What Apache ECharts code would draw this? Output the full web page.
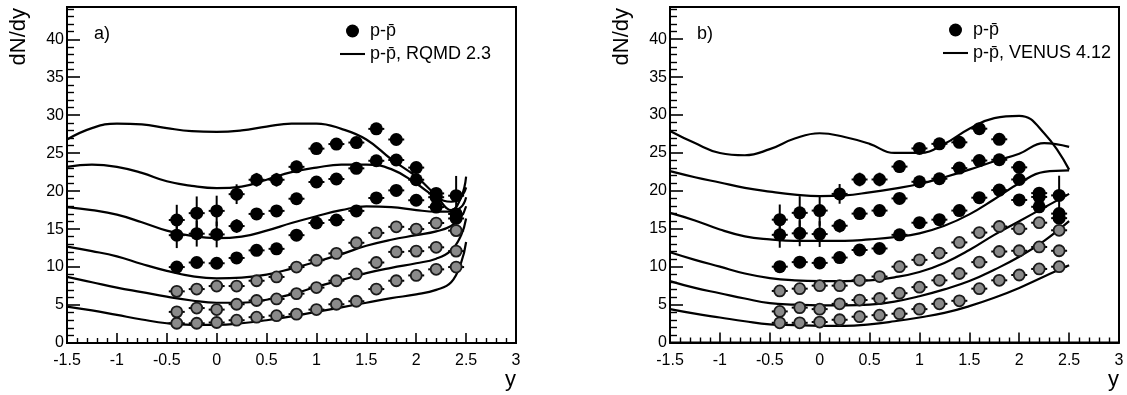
<!DOCTYPE html>
<html>
<head>
<meta charset="utf-8">
<script src="https://cdn.jsdelivr.net/npm/echarts@6/dist/echarts.min.js"></script>
<style>
html,body{margin:0;padding:0;background:#fff;}
#c{width:1127px;height:395px;}
</style>
</head>
<body>
<div id="c"></div>
<script>
// ---- tick labels ----
const xTicks = [-1.5, -1, -0.5, 0, 0.5, 1, 1.5, 2, 2.5, 3];
const yTicks = [0, 5, 10, 15, 20, 25, 30, 35, 40];

// ---- measured data points (rapidity bins) ----
const yPoints = [-0.4, -0.2, 0, 0.2, 0.4, 0.6, 0.8, 1.0, 1.2, 1.4, 1.6, 1.8, 2.0, 2.2, 2.4];
const data1 = [16.2, 17.1, 17.4, 19.6, 21.5, 21.5, 23.2, 25.6, 26.2, 26.4, 28.2, 26.8, 23.1, 19.7, 19.4];
const data2 = [14.2, 14.4, 14.3, 15.4, 17.0, 17.4, 19.0, 21.2, 21.6, 23.0, 24.0, 24.1, 21.5, 19.2, 17.0];
const data3 = [10.0, 10.6, 10.5, 11.2, 12.2, 12.4, 14.2, 15.8, 16.2, 17.4, 19.1, 20.1, 18.8, 17.9, 16.4];
const data4 = [6.8, 7.1, 7.5, 7.5, 8.2, 8.7, 10.0, 10.9, 11.8, 13.2, 14.5, 15.3, 15.0, 15.8, 14.8];
const data5 = [4.1, 4.6, 4.4, 5.1, 5.6, 5.8, 6.5, 7.3, 8.2, 9.1, 10.6, 12.0, 12.1, 12.6, 12.1];
const data6 = [2.6, 2.6, 2.7, 3.0, 3.4, 3.6, 3.8, 4.4, 5.1, 5.5, 7.1, 8.2, 8.9, 9.7, 10.0];
// vertical errors
const err1 = [2.0, 2.2, 2.0, 1.3, 0.9, 0.9, 0.8, 0.7, 0.6, 0.5, 0.4, 0.4, 0.4, 0.4, 2.6];
const err2 = [1.7, 1.7, 1.7, 0.9, 0.5, 0.5, 0.4, 0.4, 0.4, 0.4, 0.4, 0.4, 0.4, 0.4, 0.4];
const err3 = [0.6, 0.4, 0.4, 0.4, 0.4, 0.4, 0.4, 0.4, 0.4, 0.4, 0.4, 0.4, 0.4, 0.4, 0.4];
const errSmall = [0.3, 0.3, 0.3, 0.3, 0.3, 0.3, 0.3, 0.3, 0.3, 0.3, 0.3, 0.3, 0.3, 0.3, 0.3];
const binHalfWidth = 0.08;

// ---- RQMD 2.3 curves ----
const rqmdX = [-1.5, -1.25, -1, -0.75, -0.5, -0.25, 0, 0.25, 0.5, 0.75, 1, 1.25, 1.5, 1.75, 2, 2.2, 2.35, 2.45, 2.5];
const rqmd1 = [26.8, 28.3, 28.9, 28.8, 28.3, 27.9, 27.8, 28.0, 28.5, 28.9, 28.9, 28.2, 26.8, 24.2, 21.9, 19.4, 17.5, 19.2, 21.9];
const rqmd2 = [23.2, 23.5, 23.2, 22.4, 21.3, 20.7, 20.4, 20.6, 21.5, 22.5, 23.1, 23.5, 23.5, 22.9, 21.0, 19.2, 18.6, 19.3, 20.5];
const rqmd3 = [17.9, 17.5, 16.9, 15.9, 14.8, 14.1, 13.8, 14.0, 14.8, 15.8, 16.7, 17.5, 18.0, 17.9, 17.5, 17.3, 17.3, 17.9, 19.2];
const rqmd4 = [12.7, 12.1, 11.4, 10.4, 9.5, 8.8, 8.5, 8.6, 9.0, 9.8, 10.7, 11.7, 12.8, 13.6, 14.2, 14.7, 15.4, 16.6, 18.0];
const rqmd5 = [8.7, 8.0, 7.3, 6.7, 6.1, 5.6, 5.3, 5.3, 5.7, 6.4, 7.4, 8.3, 9.2, 9.9, 10.5, 11.1, 12.2, 14.2, 16.4];
const rqmd6 = [4.8, 4.3, 3.7, 3.1, 2.6, 2.4, 2.4, 2.6, 3.0, 3.5, 4.1, 4.7, 5.3, 5.9, 6.4, 7.0, 8.0, 10.6, 13.3];

// ---- VENUS 4.12 curves ----
const venusX = [-1.5, -1.25, -1, -0.75, -0.5, -0.25, 0, 0.25, 0.5, 0.75, 1, 1.25, 1.5, 1.75, 2, 2.25, 2.5];
const venus1 = [27.9, 26.3, 25.0, 24.7, 25.5, 26.9, 27.6, 27.1, 26.2, 25.0, 25.0, 26.2, 28.2, 29.6, 29.9, 27.6, 22.8];
const venus2 = [22.6, 21.8, 21.1, 20.4, 19.9, 19.5, 19.3, 19.4, 19.8, 20.3, 20.9, 21.8, 22.8, 23.9, 24.9, 26.3, 25.8];
const venus3 = [17.1, 16.1, 14.9, 14.0, 13.6, 13.4, 13.4, 13.4, 13.6, 13.9, 14.4, 15.4, 16.9, 18.9, 21.0, 22.5, 22.7];
const venus4 = [11.9, 10.9, 10.0, 9.1, 8.5, 8.2, 8.1, 8.1, 8.2, 8.6, 9.3, 10.5, 12.2, 14.2, 16.0, 17.8, 19.6];
const venus5 = [8.1, 7.2, 6.5, 5.8, 5.2, 5.0, 4.9, 4.9, 5.0, 5.4, 6.1, 7.0, 8.1, 9.6, 11.3, 13.4, 16.0];
const venus6 = [4.4, 3.8, 3.3, 2.8, 2.4, 2.3, 2.2, 2.2, 2.4, 2.8, 3.3, 3.9, 4.8, 5.9, 7.2, 8.7, 10.2];

const dataName = 'p-p\u0304';
const rqmdName = 'p-p\u0304, RQMD 2.3';
const venusName = 'p-p\u0304, VENUS 4.12';

const FONT = 'Liberation Sans, Arial, Helvetica, sans-serif';
const Y_MAX = 44.25;

const pointSets = [
  {v: data1, e: err1, dark: true},
  {v: data2, e: err2, dark: true},
  {v: data3, e: err3, dark: true},
  {v: data4, e: errSmall, dark: false},
  {v: data5, e: errSmall, dark: false},
  {v: data6, e: errSmall, dark: false}
];

function errRender(params, api) {
  const x = api.value(0), y = api.value(1), ey = api.value(2), ex = api.value(3);
  const l = api.coord([x - ex, y]), r = api.coord([x + ex, y]);
  const t = api.coord([x, y + ey]), b = api.coord([x, y - ey]);
  const st = {stroke: '#000', lineWidth: 2};
  return {type: 'group', children: [
    {type: 'line', shape: {x1: l[0], y1: l[1], x2: r[0], y2: r[1]}, style: st},
    {type: 'line', shape: {x1: t[0], y1: t[1], x2: b[0], y2: b[1]}, style: st}
  ]};
}

const grids = [
  {left: 67, top: 7, width: 449, height: 336, show: true, borderColor: '#000', borderWidth: 2},
  {left: 670, top: 7, width: 449, height: 335.5, show: true, borderColor: '#000', borderWidth: 2}
];

function mkX(gi) {
  return {
    gridIndex: gi, type: 'value', min: -1.5, max: 3, interval: 0.5,
    axisLine: {show: true, onZero: false, lineStyle: {color: '#000', width: 2}},
    axisTick: {show: true, inside: true, length: 10, lineStyle: {color: '#000', width: 1.6}},
    minorTick: {show: true, splitNumber: 5, length: 5, lineStyle: {color: '#000', width: 1.4}},
    axisLabel: {customValues: xTicks, color: '#000', fontSize: 16, fontFamily: FONT, margin: 10},
    splitLine: {show: false}, minorSplitLine: {show: false}
  };
}
function mkY(gi) {
  return {
    gridIndex: gi, type: 'value', min: 0, max: Y_MAX, interval: 5,
    axisLine: {show: true, onZero: false, lineStyle: {color: '#000', width: 2}},
    axisTick: {show: true, inside: true, length: 13, lineStyle: {color: '#000', width: 1.6}},
    minorTick: {show: true, splitNumber: 5, length: 7, lineStyle: {color: '#000', width: 1.4}},
    axisLabel: {customValues: yTicks, color: '#000', fontSize: 16, fontFamily: FONT, margin: 3},
    splitLine: {show: false}, minorSplitLine: {show: false}
  };
}

const series = [];
function addPanel(gi, curveX, curves, curveName) {
  curves.forEach(function (c) {
    series.push({
      type: 'line', name: curveName, xAxisIndex: gi, yAxisIndex: gi,
      data: curveX.map(function (x, i) { return [x, c[i]]; }),
      smooth: 0.45, showSymbol: false, symbol: 'none',
      lineStyle: {color: '#000', width: 2.2}, itemStyle: {color: '#000'},
      z: 2, silent: true
    });
  });
  pointSets.forEach(function (ps) {
    series.push({
      type: 'custom', xAxisIndex: gi, yAxisIndex: gi, renderItem: errRender,
      data: yPoints.map(function (x, i) { return [x, ps.v[i], ps.e[i], binHalfWidth]; }),
      z: 3, silent: true
    });
  });
  pointSets.forEach(function (ps) {
    series.push({
      type: 'scatter', name: dataName, xAxisIndex: gi, yAxisIndex: gi,
      data: yPoints.map(function (x, i) { return [x, ps.v[i]]; }),
      symbol: 'circle', symbolSize: ps.dark ? 13 : 11,
      itemStyle: ps.dark ? {color: '#000', opacity: 1} : {color: '#8a8a8a', borderColor: '#1a1a1a', borderWidth: 1.8, opacity: 1},
      z: 4, silent: true
    });
  });
}
addPanel(0, rqmdX, [rqmd1, rqmd2, rqmd3, rqmd4, rqmd5, rqmd6], rqmdName);
addPanel(1, venusX, [venus1, venus2, venus3, venus4, venus5, venus6], venusName);

const linePath = 'path://M0,0H24V2H0Z';
function mkLegend(left, top, modelName) {
  return {
    left: left, top: top, orient: 'vertical', itemWidth: 25, itemHeight: 13, itemGap: 5,
    selectedMode: false,
    textStyle: {fontSize: 18, fontFamily: FONT, color: '#000', lineHeight: 18},
    data: [{name: dataName, icon: 'circle'}, {name: modelName, icon: linePath}]
  };
}

const AXIS_TITLE_OFFSET = 48.3;
function titleTexts(axisLeft, axisRight, panelLabel) {
  return [
    {type: 'text', x: axisLeft - AXIS_TITLE_OFFSET, y: 8, rotation: Math.PI / 2,
     style: {text: 'dN/dy', font: '22px ' + FONT, fill: '#000', align: 'right', verticalAlign: 'middle'}},
    {type: 'text', x: axisRight, y: 380,
     style: {text: 'y', font: '22px ' + FONT, fill: '#000', align: 'right', verticalAlign: 'middle'}},
    {type: 'text', x: axisLeft + 27, y: 34,
     style: {text: panelLabel, font: '18px ' + FONT, fill: '#000', align: 'left', verticalAlign: 'middle'}}
  ];
}

const chart = echarts.init(document.getElementById('c'), null, {renderer: 'canvas'});
chart.setOption({
  animation: false,
  backgroundColor: '#fff',
  textStyle: {fontFamily: FONT},
  grid: grids,
  xAxis: [mkX(0), mkX(1)],
  yAxis: [mkY(0), mkY(1)],
  legend: [mkLegend(335, 17, rqmdName), mkLegend(938, 16, venusName)],
  graphic: titleTexts(67, 516, 'a)').concat(titleTexts(670, 1119, 'b)')),
  series: series
});
</script>
</body>
</html>
